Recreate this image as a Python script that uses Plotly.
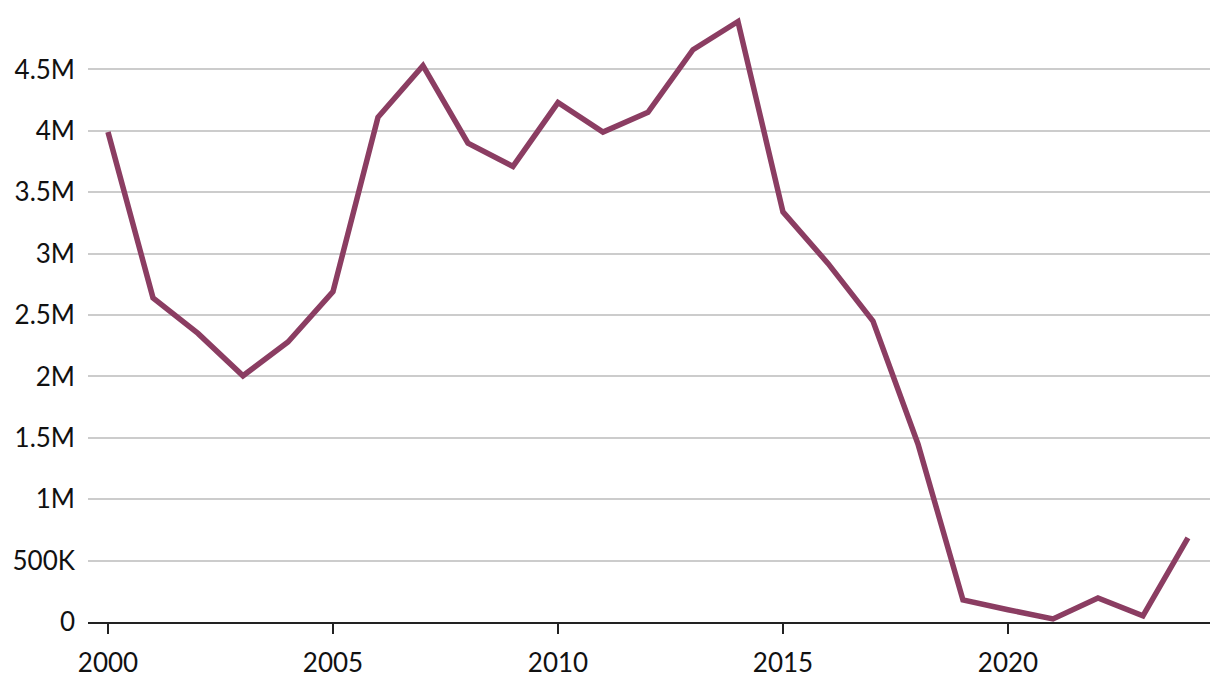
import plotly.graph_objects as go

years = list(range(2000, 2025))
values = [3.99e6, 2.64e6, 2.35e6, 2.005e6, 2.28e6, 2.69e6, 4.11e6, 4.53e6, 3.90e6, 3.71e6,
          4.23e6, 3.99e6, 4.15e6, 4.66e6, 4.89e6, 3.34e6, 2.92e6, 2.45e6, 1.45e6, 0.18e6,
          0.10e6, 0.025e6, 0.195e6, 0.05e6, 0.685e6]
y_tickvals = [0, 500e3, 1e6, 1.5e6, 2e6, 2.5e6, 3e6, 3.5e6, 4e6, 4.5e6]
y_ticktext = ["0", "500K", "1M", "1.5M", "2M", "2.5M", "3M", "3.5M", "4M", "4.5M"]
x_tickvals = [2000, 2005, 2010, 2015, 2020]

fig = go.Figure()
fig.add_trace(go.Scatter(
    x=years, y=values, mode="lines",
    line=dict(color="#8B3D62", width=5.5),
    hoverinfo="skip",
))

fig.update_layout(
    width=1212, height=680,
    margin=dict(l=80, r=10, t=0, b=66),
    plot_bgcolor="white", paper_bgcolor="white",
    showlegend=False,
    font=dict(family="Lato", color="#111111"),
)
fig.update_xaxes(
    range=[1999.556, 2024.49],
    tickvals=x_tickvals,
    ticks="outside", ticklen=10, tickwidth=2, tickcolor="#222222",
    showline=True, linecolor="#222222", linewidth=2,
    showgrid=False, zeroline=False, ticklabelstandoff=7,
    tickfont=dict(size=26, family="Lato"),
)
fig.update_yaxes(
    range=[0, 5.0e6],
    tickvals=y_tickvals, ticktext=y_ticktext,
    showgrid=True, gridcolor="#cccccc", gridwidth=1.5,
    zeroline=False, ticks="", ticklabelstandoff=12,
    tickfont=dict(size=26, family="Lato"),
)

fig.write_html("out.html")
